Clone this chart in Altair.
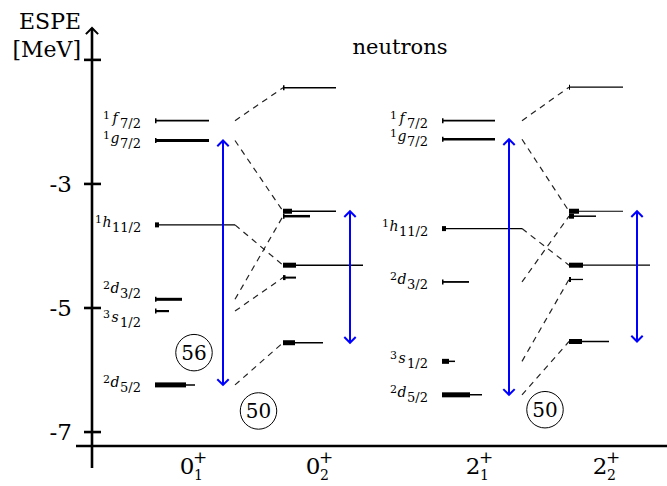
import altair as alt
import pandas as pd

# ---------------------------------------------------------------------------
# Neutron effective single-particle energies (ESPE) for four states
# ---------------------------------------------------------------------------
states = ["01", "02", "21", "22"]
state_j = ["0", "0", "2", "2"]
state_n = ["1", "2", "1", "2"]

# level energies in MeV (top to bottom within each column)
e_01 = [-1.98, -2.30, -3.66, -4.86, -5.05, -6.24]
e_02 = [-1.45, -3.44, -3.52, -4.31, -4.51, -5.56]
e_21 = [-1.98, -2.28, -3.72, -4.58, -5.86, -6.40]
e_22 = [-1.44, -3.44, -3.52, -4.31, -4.54, -5.54]

# drawn length of each level and of its dense core (x units)
len_01 = [1.08, 1.08, 1.60, 0.54, 0.28, 0.80]
len_02 = [1.06, 1.06, 0.54, 1.60, 0.26, 0.80]
len_21 = [1.06, 1.06, 1.60, 0.54, 0.26, 0.80]
len_22 = [1.08, 1.08, 0.54, 1.62, 0.28, 0.80]
core_01 = [0.03, 0.03, 0.08, 0.03, 0.03, 0.62]
core_02 = [0.03, 0.18, 0.03, 0.26, 0.05, 0.24]
core_21 = [0.03, 0.03, 0.08, 0.03, 0.14, 0.56]
core_22 = [0.02, 0.20, 0.10, 0.28, 0.04, 0.26]
# line weight of each level
wt_01 = [1.8, 3.2, 1.3, 3.0, 2.2, 1.5]
wt_02 = [1.6, 1.3, 2.5, 1.5, 2.0, 1.5]
wt_21 = [1.8, 2.6, 1.2, 1.8, 1.5, 1.5]
wt_22 = [1.1, 1.2, 1.5, 1.3, 1.3, 1.3]

# orbital names of the unperturbed (left) columns
orb_n = ["1", "1", "1", "2", "3", "2"]
orb_l = ["f", "g", "h", "d", "s", "d"]
orb_j = ["7/2", "7/2", "11/2", "3/2", "1/2", "5/2"]
lab_shift_01 = [0, 0, 0, 0.13, -0.14, 0]
lab_shift_21 = [0, 0, 0, 0, 0, 0]

# which level of the right column each orbital moves to
link_to = [0, 1, 3, 2, 4, 5]

# shell-gap markers
gap_text = ["56", "50", "50"]
gap_x = [2.04, 3.33, 9.06]
gap_e = [-5.72, -6.66, -6.64]

# energy axis
tick_values = [-1, -3, -5, -7]
tick_labels = [-3, -5, -7]

# ---------------------------------------------------------------------------
# layout (x units; 1 unit = 50 px)
# ---------------------------------------------------------------------------
col_x = {"01": 1.26, "02": 3.82, "21": 7.00, "22": 9.54}
link_x = {"01": 2.86, "21": 8.60}
arrow_x = {"01": 2.62, "02": 5.16, "21": 8.34, "22": 10.90}
state_x = [1.90, 4.42, 7.62, 10.16]
X_MAX = 11.5
E_MIN, E_MAX = -7.225, -0.486
FONT = "DejaVu Serif"
BLUE = "#0000ff"

energies = {"01": e_01, "02": e_02, "21": e_21, "22": e_22}
lengths = {"01": len_01, "02": len_02, "21": len_21, "22": len_22}
cores = {"01": core_01, "02": core_02, "21": core_21, "22": core_22}
weights = {"01": wt_01, "02": wt_02, "21": wt_21, "22": wt_22}

rows = []
for s in states:
    for e, l, c, w in zip(energies[s], lengths[s], cores[s], weights[s]):
        x0 = col_x[s]
        rows.append({"x": x0, "x2": x0 + l, "xc": x0 + c, "e": e, "w": w})
levels = pd.DataFrame(rows)

lab_rows = []
for s, shifts in (("01", lab_shift_01), ("21", lab_shift_21)):
    for n, l, j, e, sh in zip(orb_n, orb_l, orb_j, energies[s], shifts):
        off = 0.96 if len(j) > 3 else 0.80
        lab_rows.append({"x": col_x[s] - off, "e": e + sh, "n": n, "l": l, "j": j})
labels = pd.DataFrame(lab_rows)

link_rows = []
for a, b in (("01", "02"), ("21", "22")):
    for i, k in enumerate(link_to):
        link_rows.append({"x": link_x[a], "x2": col_x[b],
                          "e": energies[a][i], "e2": energies[b][k]})
links = pd.DataFrame(link_rows)

arrows = pd.DataFrame([
    {"x": arrow_x[s], "top": energies[s][1], "bot": energies[s][5]} for s in states
])

gaps = pd.DataFrame({"x": gap_x, "e": gap_e, "t": gap_text})
state_df = pd.DataFrame({"x": state_x, "j": state_j, "n": state_n, "e": [-7.57] * 4})
tick_df = pd.DataFrame({"e": tick_labels, "x": -0.40,
                        "t": [str(v) for v in tick_labels]})

XS = alt.Scale(domain=[0, X_MAX])
YS = alt.Scale(domain=[E_MIN, E_MAX])


def X(f):
    return alt.X(f, type="quantitative", scale=XS, axis=None)


def Y(f):
    return alt.Y(f, type="quantitative", scale=YS, axis=None)


# ---- axes drawn as marks -------------------------------------------------
axis_line = alt.Chart(pd.DataFrame({"x": [0], "lo": [-7.58], "hi": [E_MAX]})).mark_rule(
    color="black", strokeWidth=2.6).encode(x=X("x"), y=Y("lo"), y2="hi")
axis_head = alt.Chart(pd.DataFrame({"x": [0], "e": [E_MAX]})).mark_point(
    shape="M -1 1 L 0 0 L 1 1", filled=False, stroke="black", strokeWidth=2,
    size=150, opacity=1).encode(x=X("x"), y=Y("e"))
x_axis = alt.Chart(pd.DataFrame({"x": [-0.32], "x2": [X_MAX], "e": [E_MIN]})).mark_rule(
    color="black", strokeWidth=2.6).encode(x=X("x"), x2="x2", y=Y("e"))
ticks = alt.Chart(pd.DataFrame({"e": tick_values, "x": -0.16, "x2": 0.18})).mark_rule(
    color="black", strokeWidth=2.6).encode(x=X("x"), x2="x2", y=Y("e"))
tick_text = alt.Chart(tick_df).mark_text(
    font=FONT, fontSize=23, align="right", baseline="middle", dy=1).encode(
    x=X("x"), y=Y("e"), text="t:N")
y_title = alt.Chart(pd.DataFrame({"x": [-0.22, -0.22], "e": [-0.39, -0.84],
                                  "t": ["ESPE", "[MeV]"]})).mark_text(
    font=FONT, fontSize=22, align="right", baseline="middle").encode(
    x=X("x"), y=Y("e"), text="t:N")
panel_title = alt.Chart(pd.DataFrame({"x": [6.16], "e": [-0.81], "t": ["neutrons"]})).mark_text(
    font=FONT, fontSize=21, align="center", baseline="middle").encode(
    x=X("x"), y=Y("e"), text="t:N")

state_main = alt.Chart(state_df).mark_text(
    font=FONT, fontSize=23, align="center", baseline="middle").encode(
    x=X("x"), y=Y("e"), text="j:N")
state_sub = alt.Chart(state_df).mark_text(
    font=FONT, fontSize=14, align="left", baseline="middle", dx=7, dy=9).encode(
    x=X("x"), y=Y("e"), text="n:N")
state_sup = alt.Chart(state_df).mark_text(
    font=FONT, fontSize=17, align="left", baseline="middle", dx=6, dy=-9).encode(
    x=X("x"), y=Y("e"), text=alt.value("+"))

# ---- levels --------------------------------------------------------------
level_lines = alt.Chart(levels).mark_rule(color="black").encode(
    x=X("x"), x2="x2", y=Y("e"), strokeWidth=alt.StrokeWidth("w:Q", scale=None))
level_cores = alt.Chart(levels).mark_rule(color="black", strokeWidth=5).encode(
    x=X("x"), x2="xc", y=Y("e"))

lab_l = alt.Chart(labels).mark_text(
    font=FONT, fontSize=14, fontStyle="italic", align="center", baseline="middle", dy=-2).encode(
    x=X("x"), y=Y("e"), text="l:N")
lab_j = alt.Chart(labels).mark_text(
    font=FONT, fontSize=13, align="left", baseline="middle", dx=5, dy=3).encode(
    x=X("x"), y=Y("e"), text="j:N")
lab_n = alt.Chart(labels).mark_text(
    font=FONT, fontSize=11, align="right", baseline="middle", dx=-5, dy=-5).encode(
    x=X("x"), y=Y("e"), text="n:N")

link_lines = alt.Chart(links).mark_rule(
    color="#222222", strokeWidth=1.2, strokeDash=[6, 5]).encode(
    x=X("x"), x2="x2", y=Y("e"), y2="e2")

# ---- shell gaps ----------------------------------------------------------
gap_lines = alt.Chart(arrows).mark_rule(color=BLUE, strokeWidth=2).encode(
    x=X("x"), y=Y("top"), y2="bot")
gap_up = alt.Chart(arrows).mark_point(
    shape="M -1 1 L 0 0 L 1 1", filled=False, stroke=BLUE, strokeWidth=2,
    size=130, opacity=1).encode(x=X("x"), y=Y("top"))
gap_down = alt.Chart(arrows).mark_point(
    shape="M -1 -1 L 0 0 L 1 -1", filled=False, stroke=BLUE, strokeWidth=2,
    size=130, opacity=1).encode(x=X("x"), y=Y("bot"))

gap_circles = alt.Chart(gaps).mark_point(
    shape="circle", filled=False, stroke="black", strokeWidth=1, size=1330,
    opacity=1).encode(x=X("x"), y=Y("e"))
gap_labels = alt.Chart(gaps).mark_text(
    font=FONT, fontSize=20, align="center", baseline="middle", dy=1).encode(
    x=X("x"), y=Y("e"), text="t:N")

chart = alt.layer(
    link_lines, level_lines, level_cores, lab_l, lab_j, lab_n,
    gap_lines, gap_up, gap_down, gap_circles, gap_labels,
    axis_line, axis_head, x_axis, ticks, tick_text, y_title, panel_title,
    state_main, state_sub, state_sup,
).properties(
    width=575, height=418,
    padding={"left": 92, "top": 28, "right": 0, "bottom": 40},
    autosize=alt.AutoSizeParams(type="none"),
).configure_view(stroke=None)

chart.save("out.html", embed_options={"renderer": "svg", "actions": False})
